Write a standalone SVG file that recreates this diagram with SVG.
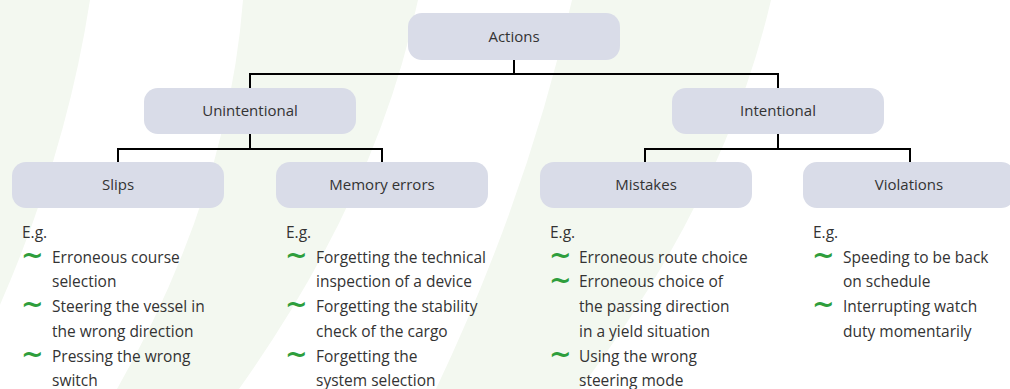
<svg xmlns="http://www.w3.org/2000/svg" width="1010" height="389" viewBox="0 0 1010 389">
<style>
.bg{fill:#f3f8f0}
.box{fill:#d9dce8}
.lbl{font-family:"Open Sans","Noto Sans",sans-serif;font-size:15px;fill:#333;text-anchor:middle}
.txt{font-family:"Open Sans","Noto Sans",sans-serif;font-size:15.5px;fill:#333}
.tl{font-family:"DejaVu Sans",sans-serif;font-weight:bold;font-size:27px;fill:#2e9e3c}
.con{fill:none;stroke:#000;stroke-width:2}
</style>
<rect width="1010" height="389" fill="#fff"/>
<g id="background">
<path class="bg" d="M-120,0 L90,0 Q60,194.5 -40,389 L-200,389 Z"/>
<path class="bg" d="M243,0 L418,0 Q377,194.5 239,389 L117,389 Q228,194.5 243,0 Z"/>
<path class="bg" d="M572,0 L771,0 Q726,194.5 580,389 L436,389 Q528,194.5 572,0 Z"/>
</g>
<g id="connectors">
<path class="con" d="M514,60 V74 M250,88 V74 H778 V88"/>
<path class="con" d="M250,134 V149 M118,162 V149 H382 V162"/>
<path class="con" d="M778,134 V149 M645,162 V149 H910 V162"/>
</g>
<g id="actions"><rect class="box" x="408" y="13" width="212" height="47" rx="14"/><text class="lbl" x="514" y="41.5">Actions</text></g>
<g id="unintentional"><rect class="box" x="144" y="88" width="212" height="46" rx="14"/><text class="lbl" x="250" y="116">Unintentional</text></g>
<g id="intentional"><rect class="box" x="672" y="88" width="212" height="46" rx="14"/><text class="lbl" x="778" y="116">Intentional</text></g>
<g id="slips"><rect class="box" x="12" y="162" width="212" height="46" rx="14"/><text class="lbl" x="118" y="190">Slips</text></g>
<g id="memory-errors"><rect class="box" x="276" y="162" width="212" height="46" rx="14"/><text class="lbl" x="382" y="190">Memory errors</text></g>
<g id="mistakes"><rect class="box" x="540" y="162" width="212" height="46" rx="14"/><text class="lbl" x="646" y="190">Mistakes</text></g>
<g id="violations"><rect class="box" x="803" y="162" width="212" height="46" rx="14"/><text class="lbl" x="909" y="190">Violations</text></g>
<g id="slips-examples">
<text class="txt" x="22" y="238">E.g.</text>
<text class="tl" x="21" y="264">~</text><text class="tl" x="21" y="313.4">~</text><text class="tl" x="21" y="362.8">~</text>
<text class="txt"><tspan x="52" y="262.7">Erroneous course</tspan><tspan x="52" y="287.4">selection</tspan><tspan x="52" y="312.1">Steering the vessel in</tspan><tspan x="52" y="336.8">the wrong direction</tspan><tspan x="52" y="361.5">Pressing the wrong</tspan><tspan x="52" y="386.2">switch</tspan></text>
</g>
<g id="memory-examples">
<text class="txt" x="286" y="238">E.g.</text>
<text class="tl" x="285" y="264">~</text><text class="tl" x="285" y="313.4">~</text><text class="tl" x="285" y="362.8">~</text>
<text class="txt"><tspan x="316" y="262.7">Forgetting the technical</tspan><tspan x="316" y="287.4">inspection of a device</tspan><tspan x="316" y="312.1">Forgetting the stability</tspan><tspan x="316" y="336.8">check of the cargo</tspan><tspan x="316" y="361.5">Forgetting the</tspan><tspan x="316" y="386.2">system selection</tspan></text>
</g>
<g id="mistakes-examples">
<text class="txt" x="550" y="238">E.g.</text>
<text class="tl" x="549" y="264">~</text><text class="tl" x="549" y="288.7">~</text><text class="tl" x="549" y="362.8">~</text>
<text class="txt"><tspan x="579" y="262.7">Erroneous route choice</tspan><tspan x="579" y="287.4">Erroneous choice of</tspan><tspan x="579" y="312.1">the passing direction</tspan><tspan x="579" y="336.8">in a yield situation</tspan><tspan x="579" y="361.5">Using the wrong</tspan><tspan x="579" y="386.2">steering mode</tspan></text>
</g>
<g id="violations-examples">
<text class="txt" x="813" y="238">E.g.</text>
<text class="tl" x="812" y="264">~</text><text class="tl" x="812" y="313.4">~</text>
<text class="txt"><tspan x="843" y="262.7">Speeding to be back</tspan><tspan x="843" y="287.4">on schedule</tspan><tspan x="843" y="312.1">Interrupting watch</tspan><tspan x="843" y="336.8">duty momentarily</tspan></text>
</g>
</svg>
